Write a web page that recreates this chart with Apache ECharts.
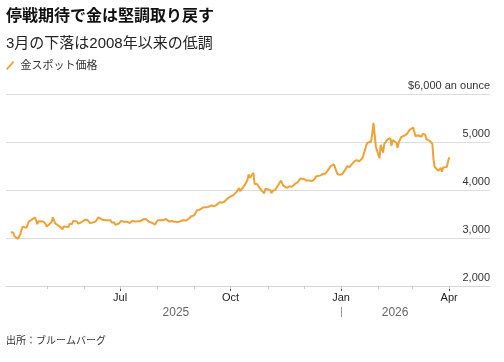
<!DOCTYPE html>
<html>
<head>
<meta charset="utf-8">
<script src="https://cdn.jsdelivr.net/npm/echarts@6/dist/echarts.min.js"></script>
<style>html,body{margin:0;padding:0;background:#fff}#c{width:504px;height:362px}</style>
</head>
<body>
<div id="c"></div>
<script>
const titleText = '停戦期待で金は堅調取り戻す';
const subtitleText = '3月の下落は2008年以来の低調';
const seriesName = '金スポット価格';
const sourceText = '出所：ブルームバーグ';
const monthNames = ['Jan','Feb','Mar','Apr','May','Jun','Jul','Aug','Sep','Oct','Nov','Dec'];
const yTicks = [2000, 3000, 4000, 5000, 6000];

const dates = [
'2025-04-01','2025-04-02','2025-04-03','2025-04-04','2025-04-07','2025-04-08','2025-04-09','2025-04-10','2025-04-11','2025-04-14','2025-04-15','2025-04-16','2025-04-17','2025-04-21','2025-04-22','2025-04-23','2025-04-24','2025-04-25','2025-04-28','2025-04-29','2025-04-30',
'2025-05-01','2025-05-02','2025-05-05','2025-05-06','2025-05-07','2025-05-08','2025-05-09','2025-05-12','2025-05-13','2025-05-14','2025-05-15','2025-05-16','2025-05-19','2025-05-20','2025-05-21','2025-05-22','2025-05-23','2025-05-26','2025-05-27','2025-05-28','2025-05-29','2025-05-30',
'2025-06-02','2025-06-03','2025-06-04','2025-06-05','2025-06-06','2025-06-09','2025-06-10','2025-06-11','2025-06-12','2025-06-13','2025-06-16','2025-06-17','2025-06-18','2025-06-19','2025-06-20','2025-06-23','2025-06-24','2025-06-25','2025-06-26','2025-06-27','2025-06-30',
'2025-07-01','2025-07-02','2025-07-03','2025-07-04','2025-07-07','2025-07-08','2025-07-09','2025-07-10','2025-07-11','2025-07-14','2025-07-15','2025-07-16','2025-07-17','2025-07-18','2025-07-21','2025-07-22','2025-07-23','2025-07-24','2025-07-25','2025-07-28','2025-07-29','2025-07-30','2025-07-31',
'2025-08-01','2025-08-04','2025-08-05','2025-08-06','2025-08-07','2025-08-08','2025-08-11','2025-08-12','2025-08-13','2025-08-14','2025-08-15','2025-08-18','2025-08-19','2025-08-20','2025-08-21','2025-08-22','2025-08-25','2025-08-26','2025-08-27','2025-08-28','2025-08-29',
'2025-09-01','2025-09-02','2025-09-03','2025-09-04','2025-09-05','2025-09-08','2025-09-09','2025-09-10','2025-09-11','2025-09-12','2025-09-15','2025-09-16','2025-09-17','2025-09-18','2025-09-19','2025-09-22','2025-09-23','2025-09-24','2025-09-25','2025-09-26','2025-09-29','2025-09-30',
'2025-10-01','2025-10-02','2025-10-03','2025-10-06','2025-10-07','2025-10-08','2025-10-09','2025-10-10','2025-10-13','2025-10-14','2025-10-15','2025-10-16','2025-10-17','2025-10-20','2025-10-21','2025-10-22','2025-10-23','2025-10-24','2025-10-27','2025-10-28','2025-10-29','2025-10-30','2025-10-31',
'2025-11-03','2025-11-04','2025-11-05','2025-11-06','2025-11-07','2025-11-10','2025-11-11','2025-11-12','2025-11-13','2025-11-14','2025-11-17','2025-11-18','2025-11-19','2025-11-20','2025-11-21','2025-11-24','2025-11-25','2025-11-26','2025-11-27','2025-11-28',
'2025-12-01','2025-12-02','2025-12-03','2025-12-04','2025-12-05','2025-12-08','2025-12-09','2025-12-10','2025-12-11','2025-12-12','2025-12-15','2025-12-16','2025-12-17','2025-12-18','2025-12-19','2025-12-22','2025-12-23','2025-12-24','2025-12-26','2025-12-29','2025-12-30','2025-12-31',
'2026-01-02','2026-01-05','2026-01-06','2026-01-07','2026-01-08','2026-01-09','2026-01-12','2026-01-13','2026-01-14','2026-01-15','2026-01-16','2026-01-19','2026-01-20','2026-01-21','2026-01-22','2026-01-23','2026-01-26','2026-01-27','2026-01-28','2026-01-29','2026-01-30',
'2026-02-02','2026-02-03','2026-02-04','2026-02-05','2026-02-06','2026-02-09','2026-02-10','2026-02-11','2026-02-12','2026-02-13','2026-02-16','2026-02-17','2026-02-18','2026-02-19','2026-02-20','2026-02-23','2026-02-24','2026-02-25','2026-02-26','2026-02-27',
'2026-03-02','2026-03-03','2026-03-04','2026-03-05','2026-03-06','2026-03-09','2026-03-10','2026-03-11','2026-03-12','2026-03-13','2026-03-16','2026-03-17','2026-03-18','2026-03-19','2026-03-20','2026-03-23','2026-03-24','2026-03-25','2026-03-26','2026-03-27','2026-03-30','2026-03-31','2026-04-01'
];

const goldPrices = [
3120,3135,3115,3037,2982,2983,3083,3175,3237,3210,3225,3341,3327,3425,3381,3288,3349,3319,3343,3317,3289,
3239,3240,3334,3431,3366,3306,3325,3235,3249,3179,3240,3202,3230,3290,3314,3294,3357,3342,3300,3288,3318,3289,
3381,3353,3374,3353,3310,3326,3322,3354,3386,3432,3384,3388,3369,3369,3368,3368,3323,3333,3327,3274,3303,
3338,3357,3326,3337,3336,3301,3313,3324,3355,3343,3324,3347,3339,3350,3397,3431,3387,3368,3337,3314,3326,3275,3289,
3363,3373,3380,3368,3397,3398,3342,3348,3356,3335,3336,3332,3315,3347,3339,3372,3365,3393,3397,3416,3448,
3477,3533,3578,3545,3586,3636,3625,3641,3634,3643,3679,3690,3660,3644,3685,3746,3763,3736,3749,3760,3833,3859,
3866,3857,3887,3961,3985,4041,3976,4017,4110,4143,4209,4326,4251,4356,4125,4095,4126,4113,3982,3952,3930,4025,4002,
4001,3932,3980,3977,4001,4116,4127,4195,4173,4084,4045,4067,4078,4078,4065,4135,4131,4164,4156,4239,
4231,4205,4200,4208,4197,4189,4209,4229,4280,4300,4305,4302,4338,4332,4340,4445,4490,4480,4533,4332,4369,4319,
4330,4446,4495,4455,4478,4509,4597,4587,4625,4615,4595,4670,4765,4835,4935,4985,5010,5180,5400,5370,4895,
4660,4940,4960,4780,4960,5060,5030,5080,4920,5040,4990,4880,4990,5000,5100,5140,5150,5170,5180,5250,
5300,5320,5120,5150,5140,5110,5170,5160,5150,5060,5020,5000,4960,4620,4480,4400,4380,4460,4380,4470,4480,4520,4680
];

const xMinDate = '2025-03-28';
const xMaxDate = '2026-05-05';

function ts(s){ const p = s.split('-').map(Number); return Date.UTC(p[0], p[1]-1, p[2]); }
const xMin = ts(xMinDate), xMax = ts(xMaxDate);

const monthStarts = [];
for (let y = 2025, m = 4; y < 2026 || m <= 3; ) {
  monthStarts.push(Date.UTC(y, m, 1));
  m++; if (m > 11) { m = 0; y++; }
}
const quarterStarts = monthStarts.filter(t => new Date(t).getUTCMonth() % 3 === 0);
const yearBreak = ts('2026-01-01');
const firstT = ts(dates[0]);
const lastT = ts(dates[dates.length-1]);
const yearLabelPos = [(firstT + yearBreak)/2, (yearBreak + lastT)/2];

const FONT = '"Liberation Sans", "Noto Sans CJK JP", sans-serif';
const ORANGE = '#eea236';

function xAxisBase(extra){
  return Object.assign({type: 'value', min: xMin, max: xMax, position: 'bottom', splitLine: {show: false}, scale: true}, extra);
}

const chart = echarts.init(document.getElementById('c'), null, {renderer:'canvas'});
chart.setOption({
  animation: false,
  textStyle: {fontFamily: FONT},
  title: [
    {text: titleText, left: 6, top: 9, padding: 0, textStyle: {fontSize: 16, fontWeight: 'bold', color: '#111', fontFamily: FONT}},
    {text: subtitleText, left: 6, top: 36, padding: 0, textStyle: {fontSize: 15, fontWeight: 'normal', color: '#222', fontFamily: FONT}}
  ],
  legend: {
    left: 6, top: 60, padding: 0, itemWidth: 11, itemHeight: 9, itemGap: 10,
    icon: 'path://M0,8.2 L7.2,0 L8.6,1.2 L1.4,9.4 Z',
    textStyle: {fontSize: 11, color: '#333', fontFamily: FONT},
    data: [seriesName]
  },
  grid: {left: 6, right: 14, top: 94, bottom: 76},
  xAxis: [
    xAxisBase({
      axisLine: {show: true, lineStyle: {color: '#d6d6d6', width: 1}},
      axisTick: {show: true, customValues: quarterStarts, length: 5, lineStyle: {color: '#444'}},
      axisLabel: {show: true, customValues: quarterStarts, margin: 6, fontSize: 11, color: '#222', fontFamily: FONT,
        formatter: v => monthNames[new Date(v).getUTCMonth()]}
    }),
    xAxisBase({
      axisLine: {show: false},
      axisTick: {show: true, customValues: monthStarts, length: 3, lineStyle: {color: '#c8c8c8'}},
      axisLabel: {show: false}
    }),
    xAxisBase({
      offset: 21,
      axisLine: {show: false},
      axisTick: {show: true, customValues: [yearBreak], length: 10, lineStyle: {color: '#999'}},
      axisLabel: {show: true, customValues: yearLabelPos, margin: 0, fontSize: 12, color: '#666', fontFamily: FONT,
        formatter: v => String(new Date(v).getUTCFullYear())}
    })
  ],
  yAxis: {
    type: 'value', position: 'right', min: yTicks[0], max: yTicks[yTicks.length-1], interval: 1000,
    axisLine: {show: false}, axisTick: {show: false},
    splitLine: {show: true, lineStyle: {color: '#dcdcdc', width: 1}},
    axisLabel: {inside: true, margin: 0, verticalAlign: 'bottom', padding: [0,0,3,0], fontSize: 11, color: '#333', fontFamily: FONT,
      formatter: v => v === 6000 ? '$6,000 an ounce' : v.toLocaleString('en-US')}
  },
  series: [{
    name: seriesName, type: 'line', xAxisIndex: 0, showSymbol: false, symbol: 'none',
    lineStyle: {color: ORANGE, width: 2}, itemStyle: {color: ORANGE},
    data: dates.map((d, i) => [ts(d), goldPrices[i]])
  }],
  graphic: [{
    type: 'text', left: 6, top: 336,
    style: {text: sourceText, fontSize: 10, fill: '#333', fontFamily: FONT}
  }]
});
</script>
</body>
</html>
